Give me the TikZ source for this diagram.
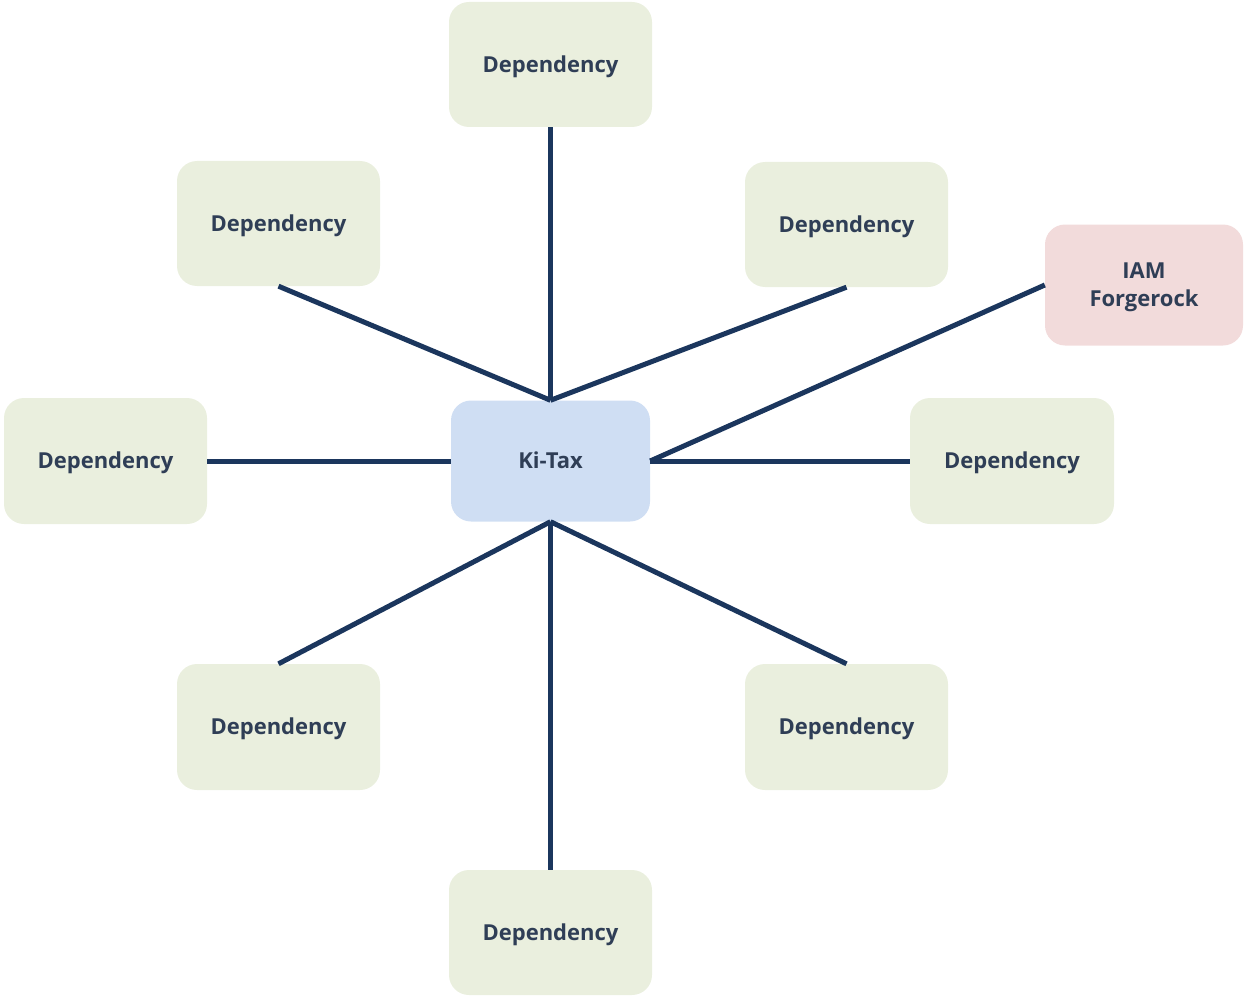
\documentclass[tikz,border=0pt]{standalone}
\usepackage{fontspec}
\setmainfont{Open Sans}
\begin{document}
\begin{tikzpicture}[x=1pt,y=-1pt,
  box/.style={rounded corners=20pt, minimum width=203pt, minimum height=125pt, inner sep=0pt,
    font=\fontsize{22}{28}\selectfont\bfseries, text=txt,
    text height=15.7pt, text depth=0pt},
  dep/.style={box, fill=depfill},
  link/.style={draw=linkc, line width=5pt}]
\definecolor{depfill}{HTML}{EAEFDE}
\definecolor{kifill}{HTML}{CFDEF3}
\definecolor{iamfill}{HTML}{F2DBDB}
\definecolor{txt}{HTML}{2F3E56}
\definecolor{linkc}{HTML}{1B365D}
\useasboundingbox (0,0) rectangle (1249,995);
\node[dep] (top) at (550.5,64.5) {Dependency};
\node[dep] (tl) at (278.5,223.5) {Dependency};
\node[dep] (tr) at (846.5,224.5) {Dependency};
\node[box, fill=iamfill, minimum width=198pt, minimum height=121pt, text depth=28pt] (iam) at (1144,285) {\begin{tabular}[t]{@{}c@{}}IAM\\Forgerock\end{tabular}};
\node[dep, minimum height=126pt] (left) at (105.5,461) {Dependency};
\node[box, fill=kifill, minimum width=199pt, minimum height=121pt] (kt) at (550.5,461) {Ki-Tax};
\node[dep, minimum width=204pt, minimum height=126pt] (right) at (1012,461) {Dependency};
\node[dep, minimum height=126pt] (bl) at (278.5,727) {Dependency};
\node[dep, minimum height=126pt] (br) at (846.5,727) {Dependency};
\node[dep] (bot) at (550.5,932.5) {Dependency};
\draw[link] (kt.north) -- (top.south);
\draw[link] (kt.north) -- (tl.south);
\draw[link] (kt.north) -- (tr.south);
\draw[link] (kt.east) -- (iam.west);
\draw[link] (left.east) -- (kt.west);
\draw[link] (kt.east) -- (right.west);
\draw[link] (kt.south) -- (bl.north);
\draw[link] (kt.south) -- (br.north);
\draw[link] (kt.south) -- (bot.north);
\end{tikzpicture}
\end{document}
